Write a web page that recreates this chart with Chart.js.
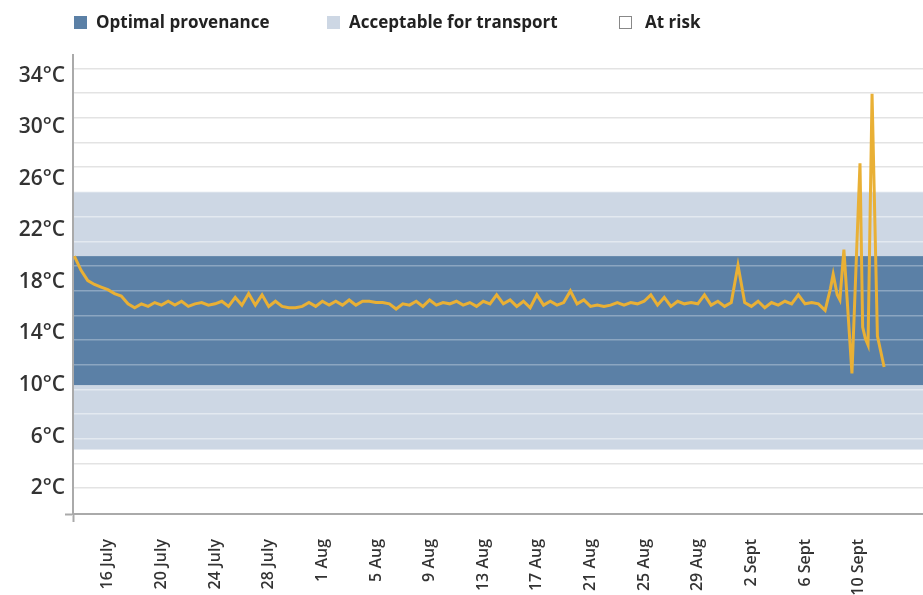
<!DOCTYPE html>
<html>
<head>
<meta charset="utf-8">
<script src="https://cdn.jsdelivr.net/npm/chart.js@4.4.0/dist/chart.umd.min.js"></script>
<style>
  html, body { margin: 0; padding: 0; background: #fff; }
  #wrap { position: relative; width: 923px; height: 595px; overflow: hidden; }
  #chart { position: absolute; left: 0; top: 0; }
  .item { position: absolute; top: 11px; font-family: "Open Sans", sans-serif; font-weight: 700;
          font-size: 17px; line-height: 22px; color: #222; white-space: nowrap; }
  .item i { display: inline-block; width: 13px; height: 13px; margin-right: 9px; vertical-align: -1px; box-sizing: border-box; }
</style>
</head>
<body>
<div id="wrap">
  <canvas id="chart" width="923" height="595"></canvas>
  <div class="item" style="left:74px"><i style="background:#5b80a6"></i>Optimal provenance</div>
  <div class="item" style="left:327px"><i style="background:#cdd7e4"></i>Acceptable for transport</div>
  <div class="item" style="left:619px"><i style="background:#fff;border:1px solid #888;margin-right:13px"></i>At risk</div>
</div>
<script>
// day 0 = 16 July, one reading roughly every 12 hours
var tickDays = [0, 4, 8, 12, 16, 20, 24, 28, 32, 36, 40, 44, 48, 52, 56];
var tickLabels = ['16 July', '20 July', '24 July', '28 July', '1 Aug', '5 Aug', '9 Aug', '13 Aug',
                  '17 Aug', '21 Aug', '25 Aug', '29 Aug', '2 Sept', '6 Sept', '10 Sept'];
var yTickValues = [2, 6, 10, 14, 18, 22, 26, 30, 34];
var optimalRange = [10, 20];
var acceptableRange = [5, 25];

var readingDays = [
  -2.5, -2, -1.5, -1, -0.5, 0, 0.5, 1, 1.5, 2,
  2.5, 3, 3.5, 4, 4.5, 5, 5.5, 6, 6.5, 7,
  7.5, 8, 8.5, 9, 9.5, 10, 10.5, 11, 11.5, 12,
  12.5, 13, 13.5, 14, 14.5, 15, 15.5, 16, 16.5, 17,
  17.5, 18, 18.5, 19, 19.5, 20, 20.5, 21, 21.5, 22,
  22.5, 23, 23.5, 24, 24.5, 25, 25.5, 26, 26.5, 27,
  27.5, 28, 28.5, 29, 29.5, 30, 30.5, 31, 31.5, 32,
  32.5, 33, 33.5, 34, 34.5, 35, 35.5, 36, 36.5, 37,
  37.5, 38, 38.5, 39, 39.5, 40, 40.5, 41, 41.5, 42,
  42.5, 43, 43.5, 44, 44.5, 45, 45.5, 46, 46.5, 47,
  47.5, 48, 48.5, 49, 49.5, 50, 50.5, 51, 51.5, 52,
  52.5, 53, 53.5,
  53.9, 54.1, 54.4, 54.6, 54.9, 55.5, 56.1, 56.3, 56.5, 56.7, 57.0, 57.4, 57.9
];
var readingTemps = [
  20.0, 18.9, 18.1, 17.8, 17.6, 17.4, 17.1, 16.9, 16.3, 16.0,
  16.3, 16.1, 16.4, 16.2, 16.5, 16.2, 16.5, 16.1, 16.3, 16.4,
  16.2, 16.3, 16.5, 16.1, 16.8, 16.2, 17.1, 16.2, 17.0, 16.1,
  16.5, 16.1, 16.0, 16.0, 16.1, 16.4, 16.1, 16.5, 16.2, 16.5,
  16.2, 16.6, 16.2, 16.5, 16.5, 16.4, 16.4, 16.3, 15.9, 16.3,
  16.2, 16.5, 16.1, 16.6, 16.2, 16.4, 16.3, 16.5, 16.2, 16.4,
  16.1, 16.5, 16.3, 17.0, 16.3, 16.6, 16.1, 16.5, 16.0, 17.0,
  16.2, 16.5, 16.2, 16.4, 17.3, 16.3, 16.6, 16.1, 16.2, 16.1,
  16.2, 16.4, 16.2, 16.4, 16.3, 16.5, 17.0, 16.2, 16.8, 16.1,
  16.5, 16.3, 16.4, 16.3, 17.0, 16.2, 16.5, 16.1, 16.4, 19.3,
  16.4, 16.1, 16.5, 16.0, 16.4, 16.2, 16.5, 16.3, 17.0, 16.3,
  16.4, 16.3, 15.8,
  17.5, 18.6, 17.0, 16.6, 20.5, 10.9, 27.2, 14.5, 13.6, 13.1, 32.6, 13.8, 11.4
];

var points = readingDays.map(function (d, i) { return { x: d, y: readingTemps[i] }; });

var bandColors = { optimal: '#5b80a6', acceptable: '#cdd7e4' };

var bandPlugin = {
  id: 'bands',
  beforeDraw: function (chart) {
    var ctx = chart.ctx, a = chart.chartArea, y = chart.scales.y;
    function band(range, color) {
      var top = y.getPixelForValue(range[1]);
      var bottom = y.getPixelForValue(range[0]);
      ctx.fillStyle = color;
      ctx.fillRect(a.left, top, a.right - a.left, bottom - top);
    }
    ctx.save();
    band(acceptableRange, bandColors.acceptable);
    band(optimalRange, bandColors.optimal);
    ctx.restore();
  }
};

function gridColor(v) {
  if (v >= optimalRange[0] && v <= optimalRange[1]) return 'rgba(255,255,255,0.3)';
  if (v >= acceptableRange[0] && v <= acceptableRange[1]) return 'rgba(255,255,255,0.45)';
  return '#e3e3e3';
}

var tickFont = { family: 'Open Sans', size: 16, weight: '600' };

var config = {
  type: 'line',
  data: {
    datasets: [{
      data: points,
      borderColor: '#e9b035',
      borderWidth: 3,
      pointRadius: 0,
      tension: 0,
      fill: false,
      xAxisID: 'x',
      yAxisID: 'y'
    }]
  },
  options: {
    responsive: false,
    animation: false,
    layout: { padding: { top: 55, left: 0, right: 0, bottom: 0 } },
    plugins: { legend: { display: false }, tooltip: { enabled: false } },
    scales: {
      x: {
        type: 'linear',
        min: -2.6,
        max: 60.8,
        afterBuildTicks: function (s) {
          s.ticks = [{ value: -2.6 }].concat(tickDays.map(function (v) { return { value: v }; }));
        },
        afterFit: function (s) { s.height = 81; },
        ticks: {
          autoSkip: false,
          minRotation: 90,
          maxRotation: 90,
          padding: 17,
          color: '#333',
          font: tickFont,
          callback: function (v) {
            var i = tickDays.indexOf(v);
            return i < 0 ? '' : tickLabels[i];
          }
        },
        grid: {
          drawOnChartArea: false,
          drawTicks: true,
          tickLength: 8,
          tickWidth: 2,
          tickColor: function (c) { return c.index === 0 ? '#aaa' : 'rgba(0,0,0,0)'; }
        },
        border: { color: '#aaa', width: 2 }
      },
      y: {
        type: 'linear',
        position: 'left',
        min: 0,
        max: 35.6,
        afterBuildTicks: function (s) {
          s.ticks = [0].concat(yTickValues).map(function (v) { return { value: v }; });
        },
        afterFit: function (s) { s.width = 73; },
        ticks: {
          padding: 0,
          color: '#333',
          font: { family: 'Open Sans', size: 21, weight: '600' },
          callback: function (v) { return v === 0 ? '' : v + '°C'; }
        },
        grid: {
          drawOnChartArea: false,
          drawTicks: true,
          tickLength: 8,
          tickWidth: 2,
          tickColor: function (c) { return c.tick && c.tick.value === 0 ? '#aaa' : 'rgba(0,0,0,0)'; }
        },
        border: { color: '#aaa', width: 2 }
      },
      yGrid: {
        type: 'linear',
        position: 'right',
        min: 0,
        max: 35.6,
        afterBuildTicks: function (s) {
          var t = [];
          for (var v = 2; v < 35.5; v += 1.915) t.push({ value: v });
          s.ticks = t;
        },
        afterFit: function (s) { s.width = 0; },
        ticks: { display: false },
        grid: {
          drawTicks: false,
          lineWidth: 1.5,
          color: function (c) { return c.tick ? gridColor(c.tick.value) : '#e3e3e3'; }
        },
        border: { display: false }
      }
    }
  },
  plugins: [bandPlugin]
};

var ctx = document.getElementById('chart').getContext('2d');
new Chart(ctx, config);
</script>
</body>
</html>
